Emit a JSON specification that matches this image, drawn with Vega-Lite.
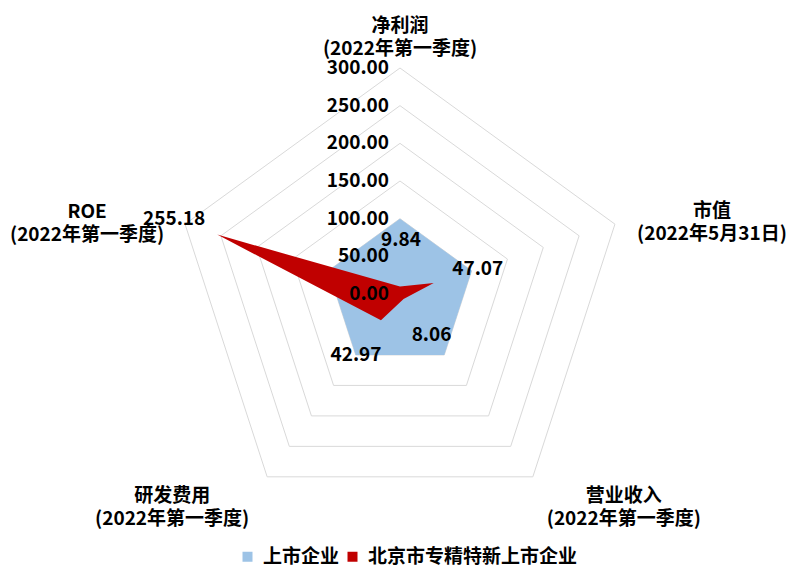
{
  "$schema": "https://vega.github.io/schema/vega-lite/v6.json",
  "width": 790,
  "height": 567,
  "autosize": "none",
  "padding": 0,
  "background": "white",
  "config": {
    "view": {"stroke": null},
    "font": "Noto Sans CJK SC",
    "text": {"font": "Noto Sans CJK SC", "fontWeight": "bold", "fontSize": 19, "color": "#000000"},
    "legend": {
      "orient": "none",
      "legendX": 238,
      "legendY": 547,
      "direction": "horizontal",
      "symbolType": "square",
      "symbolSize": 100,
      "symbolStrokeWidth": 0,
      "labelFont": "Noto Sans CJK SC",
      "labelFontWeight": "bold",
      "labelFontSize": 19,
      "labelColor": "#000000",
      "columnPadding": 3,
      "labelOffset": 6,
      "labelLimit": 400
    }
  },
  "datasets": {
    "series": [
      {"cat": "净利润", "idx": 0, "series": "上市企业", "value": 100},
      {"cat": "市值", "idx": 1, "series": "上市企业", "value": 100},
      {"cat": "营业收入", "idx": 2, "series": "上市企业", "value": 100},
      {"cat": "研发费用", "idx": 3, "series": "上市企业", "value": 100},
      {"cat": "ROE", "idx": 4, "series": "上市企业", "value": 100},
      {"cat": "净利润", "idx": 0, "series": "北京市专精特新上市企业", "value": 9.84},
      {"cat": "市值", "idx": 1, "series": "北京市专精特新上市企业", "value": 47.07},
      {"cat": "营业收入", "idx": 2, "series": "北京市专精特新上市企业", "value": 8.06},
      {"cat": "研发费用", "idx": 3, "series": "北京市专精特新上市企业", "value": 42.97},
      {"cat": "ROE", "idx": 4, "series": "北京市专精特新上市企业", "value": 255.18}
    ],
    "rings": [
      {"level": 50, "idx": 0}, {"level": 50, "idx": 1}, {"level": 50, "idx": 2}, {"level": 50, "idx": 3}, {"level": 50, "idx": 4},
      {"level": 100, "idx": 0}, {"level": 100, "idx": 1}, {"level": 100, "idx": 2}, {"level": 100, "idx": 3}, {"level": 100, "idx": 4},
      {"level": 150, "idx": 0}, {"level": 150, "idx": 1}, {"level": 150, "idx": 2}, {"level": 150, "idx": 3}, {"level": 150, "idx": 4},
      {"level": 200, "idx": 0}, {"level": 200, "idx": 1}, {"level": 200, "idx": 2}, {"level": 200, "idx": 3}, {"level": 200, "idx": 4},
      {"level": 250, "idx": 0}, {"level": 250, "idx": 1}, {"level": 250, "idx": 2}, {"level": 250, "idx": 3}, {"level": 250, "idx": 4},
      {"level": 300, "idx": 0}, {"level": 300, "idx": 1}, {"level": 300, "idx": 2}, {"level": 300, "idx": 3}, {"level": 300, "idx": 4}
    ],
    "ticks": [
      {"tick": 0}, {"tick": 50}, {"tick": 100}, {"tick": 150}, {"tick": 200}, {"tick": 250}, {"tick": 300}
    ],
    "cats": [
      {"cat": "净利润", "idx": 0, "label": "净利润\n(2022年第一季度)"},
      {"cat": "市值", "idx": 1, "label": "市值\n(2022年5月31日)"},
      {"cat": "营业收入", "idx": 2, "label": "营业收入\n(2022年第一季度)"},
      {"cat": "研发费用", "idx": 3, "label": "研发费用\n(2022年第一季度)"},
      {"cat": "ROE", "idx": 4, "label": "ROE\n(2022年第一季度)"}
    ]
  },
  "encoding": {
    "x": {"field": "x", "type": "quantitative", "scale": {"domain": [-530.97, 517.7], "nice": false, "zero": false}, "axis": null},
    "y": {"field": "y", "type": "quantitative", "scale": {"domain": [-362.39, 390.27], "nice": false, "zero": false}, "axis": null}
  },
  "layer": [
    {
      "data": {"name": "rings"},
      "transform": [
        {"calculate": "datum.idx * 2 * PI / 5", "as": "ang"},
        {"calculate": "datum.level * sin(datum.ang)", "as": "x"},
        {"calculate": "datum.level * cos(datum.ang)", "as": "y"}
      ],
      "mark": {"type": "line", "interpolate": "linear-closed", "stroke": "#d9d9d9", "strokeWidth": 1},
      "encoding": {
        "detail": {"field": "level", "type": "nominal"},
        "order": {"field": "idx", "type": "quantitative"}
      }
    },
    {
      "data": {"name": "series"},
      "transform": [
        {"filter": "datum.series === '上市企业'"},
        {"calculate": "datum.idx * 2 * PI / 5", "as": "ang"},
        {"calculate": "datum.value * sin(datum.ang)", "as": "x"},
        {"calculate": "datum.value * cos(datum.ang)", "as": "y"}
      ],
      "mark": {"type": "line", "interpolate": "linear-closed", "strokeWidth": 0},
      "encoding": {
        "fill": {"field": "series", "type": "nominal", "scale": {"domain": ["上市企业", "北京市专精特新上市企业"], "range": ["#9dc3e6", "#c00000"]}, "legend": {"title": null}},
        "order": {"field": "idx", "type": "quantitative"}
      }
    },
    {
      "data": {"name": "series"},
      "transform": [
        {"filter": "datum.series !== '上市企业'"},
        {"calculate": "datum.idx * 2 * PI / 5", "as": "ang"},
        {"calculate": "datum.value * sin(datum.ang)", "as": "x"},
        {"calculate": "datum.value * cos(datum.ang)", "as": "y"}
      ],
      "mark": {"type": "line", "interpolate": "linear-closed", "strokeWidth": 0},
      "encoding": {
        "fill": {"field": "series", "type": "nominal", "scale": {"domain": ["上市企业", "北京市专精特新上市企业"], "range": ["#9dc3e6", "#c00000"]}, "legend": {"title": null}},
        "order": {"field": "idx", "type": "quantitative"}
      }
    },
    {
      "data": {"name": "ticks"},
      "transform": [
        {"calculate": "0", "as": "x"},
        {"calculate": "datum.tick", "as": "y"}
      ],
      "mark": {"type": "text", "align": "right", "baseline": "middle", "dx": -11},
      "encoding": {"text": {"field": "tick", "type": "quantitative", "format": ".2f"}}
    },
    {
      "data": {"name": "series"},
      "transform": [
        {"filter": "datum.series !== '上市企业' && datum.idx === 0"},
        {"calculate": "datum.idx * 2 * PI / 5", "as": "ang"},
        {"calculate": "datum.value * sin(datum.ang)", "as": "x"},
        {"calculate": "datum.value * cos(datum.ang)", "as": "y"}
      ],
      "mark": {"type": "text", "align": "center", "baseline": "middle", "dx": 1, "dy": -47},
      "encoding": {"text": {"field": "value", "type": "quantitative", "format": ".2f"}}
    },
    {
      "data": {"name": "series"},
      "transform": [
        {"filter": "datum.series !== '上市企业' && datum.idx === 1"},
        {"calculate": "datum.idx * 2 * PI / 5", "as": "ang"},
        {"calculate": "datum.value * sin(datum.ang)", "as": "x"},
        {"calculate": "datum.value * cos(datum.ang)", "as": "y"}
      ],
      "mark": {"type": "text", "align": "center", "baseline": "middle", "dx": 44, "dy": -14},
      "encoding": {"text": {"field": "value", "type": "quantitative", "format": ".2f"}}
    },
    {
      "data": {"name": "series"},
      "transform": [
        {"filter": "datum.series !== '上市企业' && datum.idx === 2"},
        {"calculate": "datum.idx * 2 * PI / 5", "as": "ang"},
        {"calculate": "datum.value * sin(datum.ang)", "as": "x"},
        {"calculate": "datum.value * cos(datum.ang)", "as": "y"}
      ],
      "mark": {"type": "text", "align": "center", "baseline": "middle", "dx": 28, "dy": 36},
      "encoding": {"text": {"field": "value", "type": "quantitative", "format": ".2f"}}
    },
    {
      "data": {"name": "series"},
      "transform": [
        {"filter": "datum.series !== '上市企业' && datum.idx === 3"},
        {"calculate": "datum.idx * 2 * PI / 5", "as": "ang"},
        {"calculate": "datum.value * sin(datum.ang)", "as": "x"},
        {"calculate": "datum.value * cos(datum.ang)", "as": "y"}
      ],
      "mark": {"type": "text", "align": "center", "baseline": "middle", "dx": -25, "dy": 35},
      "encoding": {"text": {"field": "value", "type": "quantitative", "format": ".2f"}}
    },
    {
      "data": {"name": "series"},
      "transform": [
        {"filter": "datum.series !== '上市企业' && datum.idx === 4"},
        {"calculate": "datum.idx * 2 * PI / 5", "as": "ang"},
        {"calculate": "datum.value * sin(datum.ang)", "as": "x"},
        {"calculate": "datum.value * cos(datum.ang)", "as": "y"}
      ],
      "mark": {"type": "text", "align": "center", "baseline": "middle", "dx": -43, "dy": -16},
      "encoding": {"text": {"field": "value", "type": "quantitative", "format": ".2f"}}
    },
    {
      "data": {"name": "cats"},
      "transform": [
        {"filter": "datum.idx === 0"},
        {"calculate": "datum.idx * 2 * PI / 5", "as": "ang"},
        {"calculate": "300 * sin(datum.ang)", "as": "x"},
        {"calculate": "300 * cos(datum.ang)", "as": "y"}
      ],
      "mark": {"type": "text", "align": "center", "baseline": "middle", "lineBreak": "\n", "lineHeight": 23, "dx": 0, "dy": -42},
      "encoding": {"text": {"field": "label", "type": "nominal"}}
    },
    {
      "data": {"name": "cats"},
      "transform": [
        {"filter": "datum.idx === 1"},
        {"calculate": "datum.idx * 2 * PI / 5", "as": "ang"},
        {"calculate": "300 * sin(datum.ang)", "as": "x"},
        {"calculate": "300 * cos(datum.ang)", "as": "y"}
      ],
      "mark": {"type": "text", "align": "center", "baseline": "middle", "lineBreak": "\n", "lineHeight": 23, "dx": 97, "dy": -13},
      "encoding": {"text": {"field": "label", "type": "nominal"}}
    },
    {
      "data": {"name": "cats"},
      "transform": [
        {"filter": "datum.idx === 2"},
        {"calculate": "datum.idx * 2 * PI / 5", "as": "ang"},
        {"calculate": "300 * sin(datum.ang)", "as": "x"},
        {"calculate": "300 * cos(datum.ang)", "as": "y"}
      ],
      "mark": {"type": "text", "align": "center", "baseline": "middle", "lineBreak": "\n", "lineHeight": 23, "dx": 91, "dy": 19},
      "encoding": {"text": {"field": "label", "type": "nominal"}}
    },
    {
      "data": {"name": "cats"},
      "transform": [
        {"filter": "datum.idx === 3"},
        {"calculate": "datum.idx * 2 * PI / 5", "as": "ang"},
        {"calculate": "300 * sin(datum.ang)", "as": "x"},
        {"calculate": "300 * cos(datum.ang)", "as": "y"}
      ],
      "mark": {"type": "text", "align": "center", "baseline": "middle", "lineBreak": "\n", "lineHeight": 23, "dx": -95, "dy": 19},
      "encoding": {"text": {"field": "label", "type": "nominal"}}
    },
    {
      "data": {"name": "cats"},
      "transform": [
        {"filter": "datum.idx === 4"},
        {"calculate": "datum.idx * 2 * PI / 5", "as": "ang"},
        {"calculate": "300 * sin(datum.ang)", "as": "x"},
        {"calculate": "300 * cos(datum.ang)", "as": "y"}
      ],
      "mark": {"type": "text", "align": "center", "baseline": "middle", "lineBreak": "\n", "lineHeight": 23, "dx": -98, "dy": -12},
      "encoding": {"text": {"field": "label", "type": "nominal"}}
    }
  ]
}
